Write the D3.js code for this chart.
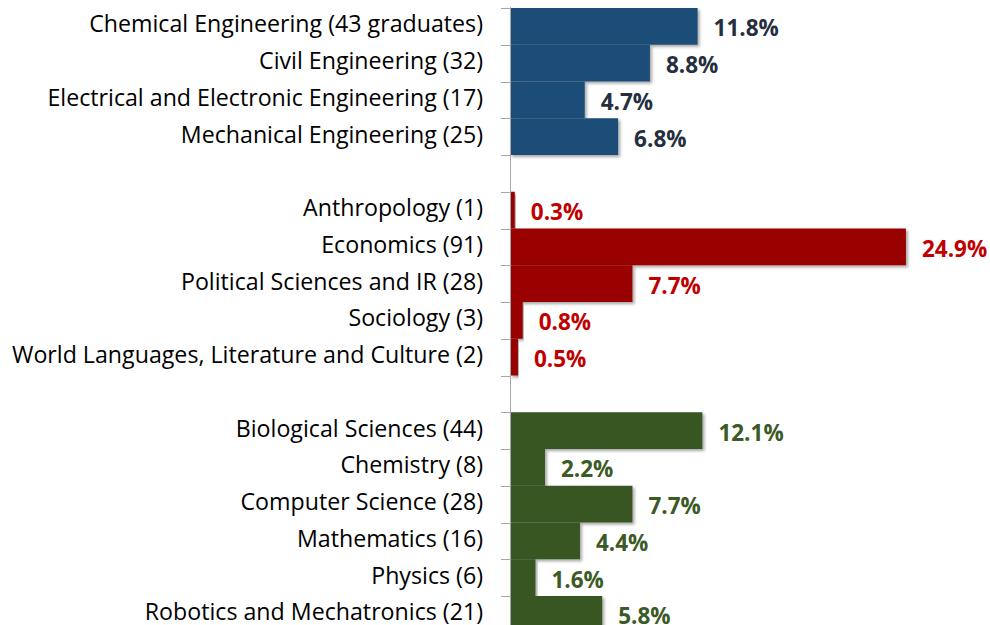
<!DOCTYPE html>
<html>
<head>
<meta charset="utf-8">
<script src="https://cdn.jsdelivr.net/npm/d3@7"></script>
<style>
  body { margin: 0; background: #fff; overflow: hidden; }
  svg { display: block; }
</style>
</head>
<body>
<svg id="chart"></svg>
<script>
// majors, graduate counts, share of graduates (%) and school group
var majors = ["Chemical Engineering", "Civil Engineering", "Electrical and Electronic Engineering", "Mechanical Engineering",
    "Anthropology", "Economics", "Political Sciences and IR", "Sociology", "World Languages, Literature and Culture",
    "Biological Sciences", "Chemistry", "Computer Science", "Mathematics", "Physics", "Robotics and Mechatronics"]
var counts = [43, 32, 17, 25, 1, 91, 28, 3, 2, 44, 8, 28, 16, 6, 21]
var shares = [11.8, 8.8, 4.7, 6.8, 0.3, 24.9, 7.7, 0.8, 0.5, 12.1, 2.2, 7.7, 4.4, 1.6, 5.8]
var groups = ["eng", "eng", "eng", "eng", "ssh", "ssh", "ssh", "ssh", "ssh", "sci", "sci", "sci", "sci", "sci", "sci"]

var barColor = {eng: "#1f4e79", ssh: "#990000", sci: "#375623"}
var labelColor = {eng: "#262f3d", ssh: "#c00000", sci: "#3b5a25"}

var data = majors.map(function(m, i){
    return {key: m, label: m + " (" + (i == 0 ? counts[i] + " graduates" : counts[i]) + ")",
            value: shares[i], group: groups[i]}
})

// band slots, with an empty slot between groups
var slots = []
data.forEach(function(d, i){
    if (i > 0 && d.group != data[i-1].group) slots.push("gap" + i)
    slots.push(d.key)
})

var width = 990, height = 625
var axisX = 510
var band = 36.75

var svg = d3.select("#chart").attr("width", width).attr("height", height)

var defs = svg.append("defs")
defs.append("filter").attr("id", "shadow").attr("x", "-5%").attr("y", "-20%").attr("width", "115%").attr("height", "150%")
    .append("feDropShadow")
    .attr("dx", 2).attr("dy", 2).attr("stdDeviation", 1.6)
    .attr("flood-color", "#000").attr("flood-opacity", 0.35)

var y = d3.scaleBand().domain(slots).range([8, 8 + band * slots.length]).padding(0)
var x = d3.scaleLinear().domain([0, 25]).range([axisX, axisX + 397.5])

// bars
svg.append("g").selectAll("rect").data(data).enter().append("rect")
    .attr("x", x(0))
    .attr("y", function(d){ return y(d.key) })
    .attr("width", function(d){ return x(d.value) - x(0) })
    .attr("height", y.bandwidth())
    .attr("fill", function(d){ return barColor[d.group] })
    .attr("filter", "url(#shadow)")

// axis line and ticks at band boundaries
var bounds = slots.map(function(s){ return y(s) })
bounds.push(y(slots[slots.length-1]) + y.bandwidth())
var ax = svg.append("g").attr("stroke", "#a6a6a6").attr("stroke-width", 1)
ax.append("line").attr("x1", axisX + 0.5).attr("x2", axisX + 0.5).attr("y1", 7).attr("y2", height + 20)
ax.selectAll("line.tick").data(bounds).enter().append("line").attr("class", "tick")
    .attr("x1", axisX - 9).attr("x2", axisX)
    .attr("y1", function(d){ return Math.round(d) + 0.5 })
    .attr("y2", function(d){ return Math.round(d) + 0.5 })

// category labels
svg.append("g").selectAll("text").data(data).enter().append("text")
    .attr("x", axisX - 27)
    .attr("y", function(d){ return y(d.key) + y.bandwidth()/2 - 2 })
    .attr("dy", "0.35em")
    .attr("text-anchor", "end")
    .attr("font-family", "'Open Sans', sans-serif")
    .attr("font-size", "23.2px")
    .attr("fill", "#000")
    .text(function(d){ return d.label })

// value labels
svg.append("g").selectAll("text").data(data).enter().append("text")
    .attr("x", function(d){ return x(d.value) + 16 })
    .attr("y", function(d){ return y(d.key) + y.bandwidth()/2 + 2 })
    .attr("dy", "0.35em")
    .attr("font-family", "'Open Sans', sans-serif")
    .attr("font-weight", "bold")
    .attr("font-size", "22.5px")
    .attr("fill", function(d){ return labelColor[d.group] })
    .text(function(d){ return d.value.toFixed(1) + "%" })
</script>
</body>
</html>
